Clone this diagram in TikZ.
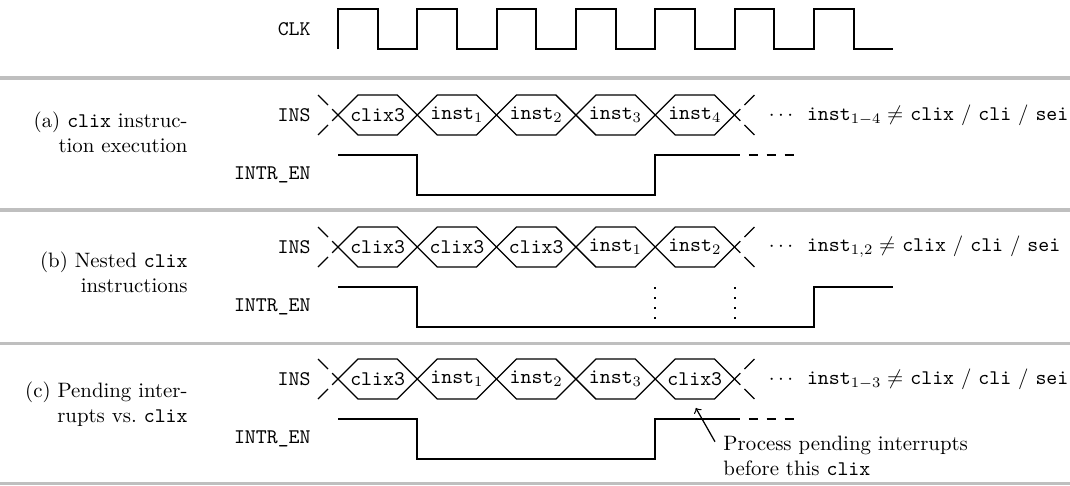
\documentclass[tikz,border=0pt]{standalone}
\usetikzlibrary{calc,positioning,shapes.symbols}

\begin{document}
\begin{tikzpicture}[x=0.48pt, y=-0.48pt,
cell/.style = {signal, signal to=west and east, signal pointer angle=90, draw, semithick,
               minimum width=38.06pt, minimum height=19.2pt, inner xsep=-5pt, inner ysep=0pt,
               outer sep=0pt, font=\ttfamily},
sig label/.style = {anchor=east, inner sep=0pt, font=\ttfamily},
sect label/.style = {anchor=east, align=right, inner sep=0pt},
note/.style = {anchor=west, align=left, inner sep=0pt},
lead/.style = {draw, semithick, dash pattern=on 6.8pt off 2.8pt on 20pt},
wave/.style = {draw, line width=0.9pt},
clock/.style = {draw, line width=1.1pt},
rule/.style = {draw, gray!50, line width=1.5pt},
marker/.style = {draw, line width=0.8pt, dash pattern=on 0.8pt off 4pt},
line/.style = {draw, semithick, ->}]

\useasboundingbox (0,0) rectangle (1070,485);

% clock
\node [sig label] (clk) at (311,29) {CLK};
\path [clock] (338,49) |- (378,9) |- (417,49) |- (457,9) |- (497,49) |- (536,9) |- (576,49)
  |- (616,9) |- (655,49) |- (695,9) |- (735,49) |- (774,9) |- (814,49) |- (854,9) |- (893,49);

% rules
\path [rule] (0,78) -- (1070,78);
\path [rule] (0,210) -- (1070,210);
\path [rule] (0,343.5) -- (1070,343.5);
\path [rule, line width=1pt] (0,483.5) -- (1070,483.5);

% (a)
\node [sect label] (lab_a) at (188,132) {(a) \texttt{clix} instruc-\\tion execution};
\node [cell] (a1) at (377.65,115) {clix3};
\node [cell, right=0pt of a1] (a2) {inst$_1$};
\node [cell, right=0pt of a2] (a3) {inst$_2$};
\node [cell, right=0pt of a3] (a4) {inst$_3$};
\node [cell, right=0pt of a4] (a5) {inst$_4$};
\node [sig label, left=13pt of a1] (ins_a) {INS};
\node [note, right=16.3pt of a5] (rest_a)
  {$\cdots$\ \ \texttt{inst}$_{1-4}\neq$ \texttt{clix} / \texttt{cli} / \texttt{sei}};
\node [sig label] (en_a) at (311,175) {INTR\_EN};

% (b)
\node [sect label] (lab_b) at (188,272.5) {(b) Nested \texttt{clix}\\instructions};
\node [cell] (b1) at (377.65,247) {clix3};
\node [cell, right=0pt of b1] (b2) {clix3};
\node [cell, right=0pt of b2] (b3) {clix3};
\node [cell, right=0pt of b3] (b4) {inst$_1$};
\node [cell, right=0pt of b4] (b5) {inst$_2$};
\node [sig label, left=13pt of b1] (ins_b) {INS};
\node [note, right=16.3pt of b5] (rest_b)
  {$\cdots$\ \ \texttt{inst}$_{1,2}\neq$ \texttt{clix} / \texttt{cli} / \texttt{sei}};
\node [sig label] (en_b) at (311,307) {INTR\_EN};

% (c)
\node [sect label] (lab_c) at (188,404.5) {(c) Pending inter-\\rupts vs.\ \texttt{clix}};
\node [cell] (c1) at (377.65,379) {clix3};
\node [cell, right=0pt of c1] (c2) {inst$_1$};
\node [cell, right=0pt of c2] (c3) {inst$_2$};
\node [cell, right=0pt of c3] (c4) {inst$_3$};
\node [cell, right=0pt of c4] (c5) {clix3};
\node [sig label, left=13pt of c1] (ins_c) {INS};
\node [note, right=16.3pt of c5] (rest_c)
  {$\cdots$\ \ \texttt{inst}$_{1-3}\neq$ \texttt{clix} / \texttt{cli} / \texttt{sei}};
\node [sig label] (en_c) at (311,439) {INTR\_EN};
\node [note] (pending) at (723,456) {Process pending interrupts\\before this \texttt{clix}};

% open ends of the buses
\path [lead] ($(a1.west)+(-20,-20)$) -- (a1.west);
\path [lead] ($(a1.west)+(-20,20)$) -- (a1.west);
\path [lead] ($(a5.east)+(20,-20)$) -- (a5.east);
\path [lead] ($(a5.east)+(20,20)$) -- (a5.east);
\path [lead] ($(b1.west)+(-20,-20)$) -- (b1.west);
\path [lead] ($(b1.west)+(-20,20)$) -- (b1.west);
\path [lead] ($(b5.east)+(20,-20)$) -- (b5.east);
\path [lead] ($(b5.east)+(20,20)$) -- (b5.east);
\path [lead] ($(c1.west)+(-20,-20)$) -- (c1.west);
\path [lead] ($(c1.west)+(-20,20)$) -- (c1.west);
\path [lead] ($(c5.east)+(20,-20)$) -- (c5.east);
\path [lead] ($(c5.east)+(20,20)$) -- (c5.east);

\begin{scope}[every path/.style=wave]
\path (338,155) -| (417,195) -| (655,155) -- (735,155);
\path (338,287) -| (417,327) -| (814,287) -- (893,287);
\path (338,419) -| (417,459) -| (655,419) -- (735,419);
\end{scope}

\path [wave, dash pattern=on 4.3pt off 4.3pt, dash phase=2pt] (735,155) -- (800,155);
\path [wave, dash pattern=on 4.3pt off 4.3pt, dash phase=2pt] (735,419) -- (800,419);
\path [marker] (655,287) -- (655,327);
\path [marker] (735,287) -- (735,327);

\path [line] ($(pending.north west)+(-8,6)$) -- ($(c5.south)+(1,9)$);

\end{tikzpicture}
\end{document}
